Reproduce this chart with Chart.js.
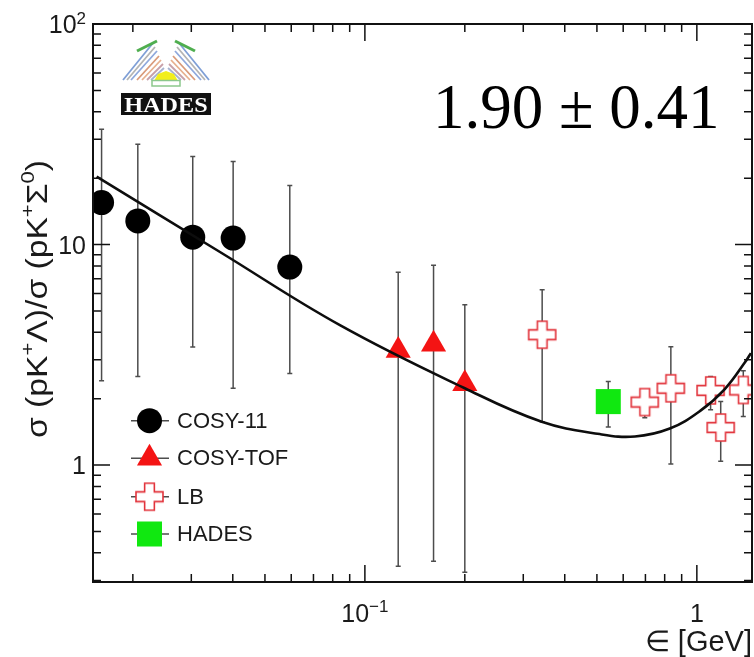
<!DOCTYPE html>
<html>
<head>
<meta charset="utf-8">
<script src="https://cdn.jsdelivr.net/npm/chart.js@4.4.1/dist/chart.umd.min.js"></script>
<style>
html,body{margin:0;padding:0;background:#fff;}
#wrap{width:754px;height:657px;position:relative;}
</style>
</head>
<body>
<div id="wrap"><canvas id="c" width="754" height="657"></canvas></div>
<script>
// ---------- data ----------
const cosy11X  = [0.0161, 0.0207, 0.0303, 0.0401, 0.0594];
const cosy11Y  = [15.5, 12.8, 10.8, 10.7, 7.9];
const cosy11Hi = [33.3, 28.5, 25.1, 23.8, 18.5];
const cosy11Lo = [2.41, 2.52, 3.43, 2.23, 2.60];

const tofX  = [0.126, 0.161, 0.200];
const tofY  = [3.31, 3.53, 2.34];
const tofHi = [7.48, 8.05, 5.34];
const tofLo = [0.348, 0.366, 0.327];

const lbX  = [0.342, 0.697, 0.835, 1.10, 1.18, 1.38];
const lbY  = [3.90, 1.93, 2.23, 2.18, 1.48, 2.19];
const lbHi = [6.24, 2.19, 3.44, 2.52, 1.94, 2.68];
const lbLo = [1.57, 1.64, 1.01, 1.78, 1.04, 1.66];

const hadesX  = [0.541];
const hadesY  = [1.94];
const hadesHi = [2.39];
const hadesLo = [1.49];

const fitX = [0.01556, 0.0366, 0.0841, 0.200, 0.341, 0.510, 0.651, 0.829, 1.021, 1.214, 1.405, 1.455];
const fitY = [20.3, 9.25, 4.31, 2.23, 1.572, 1.382, 1.347, 1.464, 1.757, 2.212, 2.963, 3.22];

const seriesNames = ['COSY-11', 'COSY-TOF', 'LB', 'HADES'];

const xLabelValues = [0.1, 1];
const xLabelBase   = ['10', '1'];
const xLabelSup    = ['\u22121', ''];
const yLabelValues = [1, 10, 100];
const yLabelBase   = ['1', '10', '10'];
const yLabelSup    = ['', '', '2'];

const annotationText = '1.90 \u00b1 0.41';
const xTitle = '\u2208 [GeV]';

// ---------- helpers ----------
function pts(xs, ys) { return xs.map((x, i) => ({x: x, y: ys[i]})); }

function makeCross(size, color) {
  const pad = 2;
  const c = document.createElement('canvas');
  c.width = size + 2 * pad; c.height = size + 2 * pad;
  const g = c.getContext('2d');
  const s = size, a = size * 0.36, o = pad, m = (s - a) / 2;
  g.beginPath();
  g.moveTo(o + m, o);
  g.lineTo(o + m + a, o);
  g.lineTo(o + m + a, o + m);
  g.lineTo(o + s, o + m);
  g.lineTo(o + s, o + m + a);
  g.lineTo(o + m + a, o + m + a);
  g.lineTo(o + m + a, o + s);
  g.lineTo(o + m, o + s);
  g.lineTo(o + m, o + m + a);
  g.lineTo(o, o + m + a);
  g.lineTo(o, o + m);
  g.lineTo(o + m, o + m);
  g.closePath();
  g.fillStyle = '#ffffff';
  g.fill();
  g.strokeStyle = color;
  g.lineWidth = 1.6;
  g.stroke();
  return c;
}
const crossImg = makeCross(27, '#e2333b');

const RED = '#f41414', GREEN = '#10e810', BLACK = '#000000';

// ---------- plugins ----------
const errorBars = {
  id: 'errorBars',
  beforeDatasetsDraw(chart) {
    const ctx = chart.ctx, xs = chart.scales.x, ys = chart.scales.y;
    const groups = [[cosy11X, cosy11Lo, cosy11Hi], [tofX, tofLo, tofHi], [lbX, lbLo, lbHi], [hadesX, hadesLo, hadesHi]];
    ctx.save();
    ctx.strokeStyle = '#4d4d4d';
    ctx.lineWidth = 1.5;
    groups.forEach(([gx, lo, hi]) => {
      gx.forEach((x, i) => {
        const px = xs.getPixelForValue(x);
        const p1 = ys.getPixelForValue(lo[i]);
        const p2 = ys.getPixelForValue(hi[i]);
        ctx.beginPath();
        ctx.moveTo(px, p1); ctx.lineTo(px, p2);
        ctx.moveTo(px - 2.5, p1); ctx.lineTo(px + 2.5, p1);
        ctx.moveTo(px - 2.5, p2); ctx.lineTo(px + 2.5, p2);
        ctx.stroke();
      });
    });
    ctx.restore();
  }
};

function drawSupText(ctx, base, sup, x, y, align, fs, sfs, raise) {
  ctx.font = fs + 'px "Liberation Sans", Arial, sans-serif';
  const wb = ctx.measureText(base).width;
  ctx.font = sfs + 'px "Liberation Sans", Arial, sans-serif';
  const ws = sup ? ctx.measureText(sup).width : 0;
  const total = wb + ws;
  let x0 = x;
  if (align === 'center') x0 = x - total / 2;
  else if (align === 'right') x0 = x - total;
  ctx.textAlign = 'left';
  ctx.textBaseline = 'alphabetic';
  ctx.font = fs + 'px "Liberation Sans", Arial, sans-serif';
  ctx.fillText(base, x0, y);
  if (sup) {
    ctx.font = sfs + 'px "Liberation Sans", Arial, sans-serif';
    ctx.fillText(sup, x0 + wb, y - raise);
  }
}

function drawLogo(ctx) {
  ctx.save();
  const cx = 166;
  const fan = [
    ['#7f9fd6', 153, 43, 123, 80],
    ['#b4b4b4', 155, 47, 127, 80],
    ['#8fa8dc', 157, 51, 131, 80],
    ['#d99a7a', 159, 56, 137, 80],
    ['#e7b08e', 161, 60, 142, 80],
    ['#c8a0a8', 163, 64, 147, 80],
    ['#a8b4d0', 164, 68, 151, 80]
  ];
  ctx.lineWidth = 1.8;
  fan.forEach(([c, x1, y1, x2, y2]) => {
    ctx.strokeStyle = c;
    ctx.beginPath(); ctx.moveTo(x1, y1); ctx.lineTo(x2, y2); ctx.stroke();
    ctx.beginPath(); ctx.moveTo(2 * cx - x1, y1); ctx.lineTo(2 * cx - x2, y2); ctx.stroke();
  });
  ctx.strokeStyle = '#4fae4f';
  ctx.lineWidth = 3;
  ctx.beginPath(); ctx.moveTo(137, 51); ctx.lineTo(157, 41); ctx.stroke();
  ctx.beginPath(); ctx.moveTo(175, 41); ctx.lineTo(195, 51); ctx.stroke();
  ctx.fillStyle = '#f2ee1c';
  ctx.beginPath();
  ctx.moveTo(154, 81); ctx.lineTo(158, 74); ctx.lineTo(166, 71); ctx.lineTo(174, 74); ctx.lineTo(178, 81);
  ctx.closePath(); ctx.fill();
  ctx.strokeStyle = '#8cc88c';
  ctx.lineWidth = 1.5;
  ctx.strokeRect(152, 80.5, 28, 5.5);
  ctx.fillStyle = '#111111';
  ctx.fillRect(121, 93, 90, 22);
  ctx.fillStyle = '#ffffff';
  ctx.font = 'bold 22px "Liberation Serif", "Times New Roman", serif';
  ctx.textAlign = 'center';
  ctx.textBaseline = 'alphabetic';
  ctx.save();
  ctx.translate(cx, 112);
  ctx.scale(1.1, 1);
  ctx.fillText('HADES', 0, 0);
  ctx.restore();
  ctx.restore();
}

function drawLegendMarker(ctx, k, x, y) {
  ctx.save();
  ctx.strokeStyle = '#4d4d4d';
  ctx.lineWidth = 1.5;
  ctx.beginPath(); ctx.moveTo(131, y); ctx.lineTo(169, y); ctx.stroke();
  if (k === 0) {
    ctx.fillStyle = BLACK;
    ctx.beginPath(); ctx.arc(x, y, 12.5, 0, Math.PI * 2); ctx.fill();
  } else if (k === 1) {
    const r = 14.5;
    ctx.fillStyle = RED;
    ctx.beginPath();
    ctx.moveTo(x, y - r);
    ctx.lineTo(x + r * Math.sin(2 * Math.PI / 3), y - r * Math.cos(2 * Math.PI / 3));
    ctx.lineTo(x + r * Math.sin(4 * Math.PI / 3), y - r * Math.cos(4 * Math.PI / 3));
    ctx.closePath(); ctx.fill();
  } else if (k === 2) {
    ctx.drawImage(crossImg, x - crossImg.width / 2, y - crossImg.height / 2);
  } else {
    ctx.fillStyle = GREEN;
    ctx.fillRect(x - 12.5, y - 12.5, 25, 25);
  }
  ctx.restore();
}

const frameAndText = {
  id: 'frameAndText',
  afterDraw(chart) {
    const ctx = chart.ctx, a = chart.chartArea, xs = chart.scales.x, ys = chart.scales.y;
    ctx.save();
    ctx.strokeStyle = '#111111';
    ctx.lineWidth = 2;
    ctx.strokeRect(a.left, a.top, a.right - a.left, a.bottom - a.top);
    ctx.lineWidth = 1.5;
    ctx.beginPath();
    [0.01, 0.1, 1].forEach(d => {
      for (let m = 1; m <= 9; m++) {
        const v = m * d;
        if (v < xs.min || v > xs.max) continue;
        const px = xs.getPixelForValue(v);
        const L = m === 1 ? 17 : 8;
        ctx.moveTo(px, a.bottom); ctx.lineTo(px, a.bottom - L);
        ctx.moveTo(px, a.top); ctx.lineTo(px, a.top + L);
      }
    });
    [0.1, 1, 10, 100].forEach(d => {
      for (let m = 1; m <= 9; m++) {
        const v = m * d;
        if (v < ys.min || v > ys.max) continue;
        const py = ys.getPixelForValue(v);
        const L = m === 1 ? 17 : 8;
        ctx.moveTo(a.left, py); ctx.lineTo(a.left + L, py);
        ctx.moveTo(a.right, py); ctx.lineTo(a.right - L, py);
      }
    });
    ctx.stroke();

    ctx.fillStyle = '#1a1a1a';
    xLabelValues.forEach((v, i) => {
      const px = xs.getPixelForValue(v);
      drawSupText(ctx, xLabelBase[i], xLabelSup[i], px, 622, 'center', 25, 17, 10);
    });
    yLabelValues.forEach((v, i) => {
      const py = ys.getPixelForValue(v);
      drawSupText(ctx, yLabelBase[i], yLabelSup[i], 86, py + 9, 'right', 25, 17, 9);
    });

    ctx.font = '29px "Liberation Sans", Arial, sans-serif';
    ctx.textAlign = 'right';
    ctx.textBaseline = 'alphabetic';
    ctx.fillText(xTitle, 752, 651);

    const segs = [['\u03c3 (pK', 0], ['+', 1], ['\u039b)/\u03c3 (pK', 0], ['+', 1], ['\u03a3', 0], ['0', 1], [')', 0]];
    const F = '"Liberation Sans", Arial, sans-serif';
    let tw = 0;
    segs.forEach(([t, s]) => { ctx.font = (s ? 19 : 29) + 'px ' + F; tw += ctx.measureText(t).width; });
    const sc = 278 / tw;
    ctx.save();
    ctx.translate(47, 299);
    ctx.rotate(-Math.PI / 2);
    ctx.scale(sc, 1);
    ctx.textAlign = 'left';
    let xx = -tw / 2;
    segs.forEach(([t, s]) => {
      ctx.font = (s ? 19 : 29) + 'px ' + F;
      ctx.fillText(t, xx, s ? -13 : 0);
      xx += ctx.measureText(t).width;
    });
    ctx.restore();

    const rows = [420.7, 458.3, 496.7, 534];
    seriesNames.forEach((n, k) => {
      drawLegendMarker(ctx, k, 149.5, rows[k]);
      ctx.fillStyle = '#1a1a1a';
      ctx.font = '22px "Liberation Sans", Arial, sans-serif';
      ctx.textAlign = 'left';
      ctx.textBaseline = 'middle';
      ctx.fillText(n, 177, rows[k] + 1);
    });

    ctx.fillStyle = '#000000';
    ctx.font = '63px "Liberation Serif", "Times New Roman", serif';
    ctx.textAlign = 'left';
    ctx.textBaseline = 'alphabetic';
    ctx.fillText(annotationText, 433, 128);

    drawLogo(ctx);
    ctx.restore();
  }
};

// ---------- chart ----------
const axisCommon = {
  type: 'logarithmic',
  display: true,
  ticks: {display: false},
  grid: {display: false, drawTicks: false},
  border: {display: false},
  title: {display: false}
};

new Chart(document.getElementById('c'), {
  type: 'scatter',
  data: {
    datasets: [
      {label: 'fit', data: pts(fitX, fitY), showLine: true, borderColor: '#0d0d0d', borderWidth: 2.6,
       pointRadius: 0, tension: 0.4, fill: false, order: 0},
      {label: seriesNames[0], data: pts(cosy11X, cosy11Y), pointStyle: 'circle', pointRadius: 12.5,
       backgroundColor: BLACK, borderWidth: 0, order: 1},
      {label: seriesNames[1], data: pts(tofX, tofY), pointStyle: 'triangle', pointRadius: 14.5,
       backgroundColor: RED, borderWidth: 0, order: 1},
      {label: seriesNames[2], data: pts(lbX, lbY), pointStyle: crossImg, pointRadius: 13.5,
       backgroundColor: '#fff', borderWidth: 0, order: 1},
      {label: seriesNames[3], data: pts(hadesX, hadesY), pointStyle: 'rect', pointRadius: 17.7,
       backgroundColor: GREEN, borderWidth: 0, order: 1}
    ]
  },
  options: {
    responsive: false,
    animation: false,
    devicePixelRatio: 1,
    layout: {autoPadding: false, padding: {left: 93, top: 24, right: 2, bottom: 75}},
    plugins: {legend: {display: false}, tooltip: {enabled: false}, title: {display: false}},
    events: [],
    scales: {
      x: Object.assign({}, axisCommon, {min: 0.01517, max: 1.466}),
      y: Object.assign({}, axisCommon, {min: 0.295, max: 100})
    }
  },
  plugins: [errorBars, frameAndText]
});
</script>
</body>
</html>
